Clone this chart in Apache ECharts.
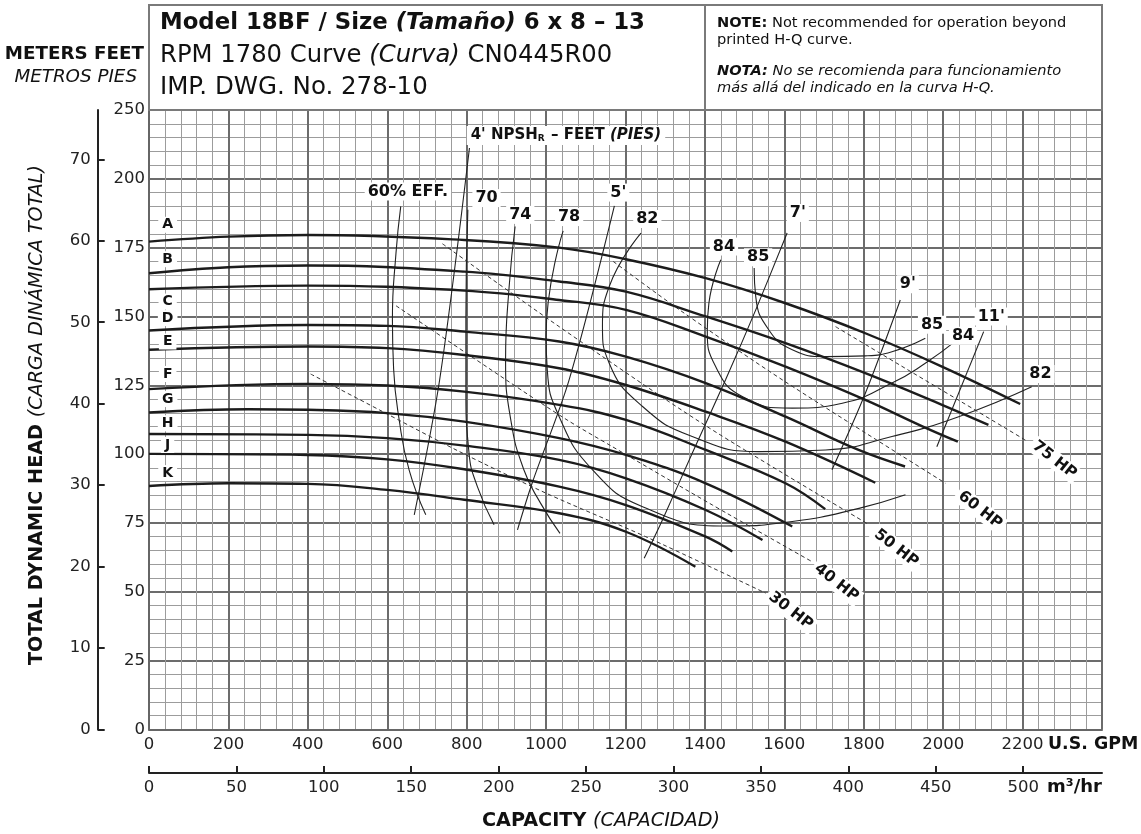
<!DOCTYPE html>
<html><head><meta charset="utf-8">
<script src="https://cdn.jsdelivr.net/npm/echarts@6/dist/echarts.min.js"></script>
<style>html,body{margin:0;padding:0;background:#fff}#c{width:1141px;height:834px}</style>
</head><body><div id="c"></div>
<script>
// ---------- axis ticks ----------
const gpmTicks = [0,200,400,600,800,1000,1200,1400,1600,1800,2000,2200];
const m3Ticks = [0,50,100,150,200,250,300,350,400,450,500];
const feetTicks = [0,25,50,75,100,125,150,175,200,225];
const feetTickLabels = ['0','25','50','75','100','125','150','175','200','250'];
const meterTicks = [0,10,20,30,40,50,60,70];

// ---------- head-capacity curves (GPM, feet) ----------
const curveNames = ['A','B','C','D','E','F','G','H','J','K'];
const curveA = [[0,177.2],[200,179.0],[400,179.6],[794,177.8],[1033,175],[1201,170.8],[1402,163.9],[1603,154.8],[1804,143.9],[1997,131.8],[2194,118.2]];
const curveB = [[0,165.7],[200,167.9],[400,168.5],[794,166.3],[1033,162.7],[1201,159],[1402,150],[1603,140.3],[1804,129.4],[1997,117.9],[2114,110.6]];
const curveC = [[0,159.9],[400,161.2],[794,159.4],[1033,156],[1201,152.4],[1402,142.7],[1603,131.8],[1804,119.7],[1949,110],[2037,104.5]];
const curveD = [[0,144.9],[400,146.9],[600,146.6],[794,144.5],[1033,140.9],[1201,135.4],[1402,125.8],[1603,113.6],[1787,101.5],[1904,95.5]];
const curveE = [[0,137.9],[400,139.1],[600,138.5],[794,136],[1033,131.2],[1201,125.1],[1402,115.4],[1603,104.5],[1829,89.6]];
const curveF = [[0,123.6],[400,125.5],[600,124.9],[794,122.7],[1033,117.9],[1201,112.4],[1402,101.5],[1603,89.4],[1703,80]];
const curveG = [[0,115.1],[250,116.3],[400,116.1],[600,114.9],[794,111.8],[1033,105.8],[1201,99.7],[1402,89.4],[1620,73.7]];
const curveH = [[0,107.3],[400,107],[600,105.8],[800,103],[1033,97.9],[1201,91.2],[1402,79.7],[1545,68.8]];
const curveJ = [[0,100.1],[400,99.7],[600,98.1],[794,94.5],[1033,88.2],[1201,81.5],[1402,70],[1469,64.6]];
const curveK = [[0,88.4],[200,89.4],[400,89.2],[600,87],[794,83.4],[1033,78.5],[1201,71.8],[1376,59.1]];
const headCurves = [curveA,curveB,curveC,curveD,curveE,curveF,curveG,curveH,curveJ,curveK];
const curveLabelPos = [[47,183.3],[47,170.8],[47,155.4],[47,149.4],[47,140.9],[47,129.1],[47,120],[47,111.2],[47,103.3],[47,93.1]];

// ---------- efficiency curves ----------
const eff60 = [[634,190],[622,173],[613,149],[616,131],[630,112.5],[655,94.3],[697,78]];
const eff70 = [[803,188.8],[798,148.8],[798,124.5],[806,100.3],[827,88.2],[869,74.3]];
const eff74 = [[922,182.7],[907,160.9],[898,134.2],[911,112.5],[944,94.3],[986,82.2],[1035,71.2]];
const eff78 = [[1043,181.1],[1000,142.7],[1003,130.6],[1033,113.6],[1117,94.3],[1243,80.9],[1453,73.9],[1620,75.5],[1788,80.3],[1905,85.2]];
const eff82 = [[1239,180.3],[1159,160.9],[1142,146.3],[1159,133],[1243,117.3],[1368,106.4],[1536,100.9],[1704,101.5],[1871,106.4],[2039,113.6],[2223,124.5]];
const eff84 = [[1440,170.6],[1410,154.8],[1406,145.1],[1427,131.8],[1494,120.9],[1620,116.7],[1746,118.5],[1871,125.8],[1955,133],[2035,141.5]];
const eff85 = [[1524,167.6],[1528,157.2],[1561,145.1],[1620,137.9],[1704,135.4],[1804,135.7],[1871,137.2],[1955,142.1]];
const effCurves = [eff60,eff70,eff74,eff78,eff82,eff84,eff85];

// ---------- NPSHr lines ----------
const npsh4 = [[807,211.2],[732,127],[668,77.9]];
const npsh5 = [[1172,190.2],[1058,127],[965,89.5],[928,72.5]];
const npsh7 = [[1607,180.3],[1528,152.4],[1452,127],[1368,100.3],[1293,76.1],[1247,62.2]];
const npsh9 = [[1892,156],[1804,122.1],[1720,94.3]];
const npsh11 = [[2102,144.5],[1984,102.7]];
const npshLines = [npsh4,npsh5,npsh7,npsh9,npsh11];

// ---------- horsepower lines ----------
const hp30 = [[407,129.1],[581,116],[782,100.9],[1000,85.8],[1251,70],[1553,49.5]];
const hp40 = [[622,153.9],[899,127],[1053,112.4],[1167,102.7],[1419,81.5],[1670,60.9]];
const hp50 = [[739,176.4],[1033,146.3],[1400,110.5],[1813,74.4]];
const hp60 = [[1169,170.0],[1340,152],[1600,126.5],[2006,89.4]];
const hp75 = [[1729,146.3],[2207,105.1]];
const hpLines = [hp30,hp40,hp50,hp60,hp75];
const hpLabels = [['30 HP',1616,43.1],['40 HP',1731,53.3],['50 HP',1882,65.8],['60 HP',2093,79.7],['75 HP',2280,97.9]];

// ---------- curve labels ----------
const effLabels = [['60% EFF.',652,195.4],['70',850,193.0],['74',935,186.9],['78',1058,186.1],["5'",1182,195.0],['82',1255,185.4],
  ['84',1448,175.4],['85',1534,171.5],["7'",1634,187.6],["9'",1911,161.7],['85',1972,147],['84',2050,143],["11'",2121,150],['82',2245,129.1]];
const npshTitlePos = [1050,215.7];

const FONT = 'DejaVu Sans';
const INK = '#111';
const chart = echarts.init(document.getElementById('c'), null, {renderer:'canvas'});

const series = [];
headCurves.forEach((d,i)=>series.push({name:curveNames[i],type:'line',data:d,smooth:0.4,symbol:'none',
  lineStyle:{color:'#1c1c1c',width:2.4},z:4,silent:true}));
effCurves.forEach(d=>series.push({type:'line',data:d,smooth:0.5,symbol:'none',lineStyle:{color:'#222',width:1.1},z:3,silent:true}));
npshLines.forEach(d=>series.push({type:'line',data:d,smooth:0.3,symbol:'none',lineStyle:{color:'#222',width:1.1},z:3,silent:true}));
hpLines.forEach(d=>series.push({type:'line',data:d,smooth:0.3,symbol:'none',lineStyle:{color:'#333',width:1,type:[4,3]},z:3,silent:true}));

const labelBase = {show:true,position:'inside',color:INK,opacity:1,textBorderWidth:0,fontFamily:FONT,fontWeight:'bold',backgroundColor:'#fff',padding:[1,3]};
const markerStyle = {color:'#fff',opacity:1};
series.push({type:'scatter',symbolSize:0.01,itemStyle:markerStyle,z:10,silent:true,
  data:curveLabelPos.map((p,i)=>({value:p,name:curveNames[i]})),
  label:Object.assign({},labelBase,{fontSize:14,formatter:p=>p.name,padding:[1,4]})});
series.push({type:'scatter',symbolSize:0.01,itemStyle:markerStyle,z:10,silent:true,
  data:effLabels.map(l=>({value:[l[1],l[2]],name:l[0]})),
  label:Object.assign({},labelBase,{fontSize:16,formatter:p=>p.name,padding:[1,3]})});
series.push({type:'scatter',symbolSize:0.01,itemStyle:markerStyle,z:10,silent:true,
  data:hpLabels.map(l=>({value:[l[1],l[2]],name:l[0]})),
  label:Object.assign({},labelBase,{fontSize:15.5,rotate:-38,formatter:p=>p.name,padding:[1,3]})});
series.push({type:'scatter',symbolSize:0.01,itemStyle:markerStyle,z:10,silent:true,
  data:[{value:npshTitlePos,name:'npsh'}],
  label:Object.assign({},labelBase,{padding:[2,4],formatter:"{b|4' NPSH}{s|R}{b| – FEET }{i|(PIES)}",
    rich:{b:{fontFamily:FONT,fontWeight:'bold',fontSize:15,color:INK},
          s:{fontFamily:FONT,fontWeight:'bold',fontSize:9,color:INK,verticalAlign:'bottom',padding:[6,1,0,0]},
          i:{fontFamily:FONT,fontWeight:'bold',fontStyle:'italic',fontSize:15,color:INK}}})});

const axisText = {fontFamily:FONT,fontSize:16.5,color:'#222'};
const option = {
  animation:false,
  backgroundColor:'#fff',
  grid:{left:149,right:39,top:110,bottom:104.6,containLabel:false},
  xAxis:[
    {type:'value',min:0,max:2400,interval:200,position:'bottom',
     axisLine:{show:true,onZero:false,lineStyle:{color:'#666',width:2}},
     axisTick:{show:false},
     axisLabel:Object.assign({customValues:gpmTicks,margin:7,formatter:v=>String(v)},axisText),
     splitLine:{show:true,lineStyle:{color:'#6c6c6c',width:2}},
     minorTick:{show:false,splitNumber:5},
     minorSplitLine:{show:true,lineStyle:{color:'#9c9c9c',width:1}}},
    {type:'value',min:0,max:2400/4.402868,position:'bottom',offset:43.5,
     axisLine:{show:true,onZero:false,lineStyle:{color:'#222',width:2}},
     axisTick:{show:true,inside:true,length:7,customValues:m3Ticks,lineStyle:{color:'#222',width:2}},
     axisLabel:Object.assign({customValues:m3Ticks,margin:6,formatter:v=>String(v)},axisText),
     splitLine:{show:false}}
  ],
  yAxis:[
    {type:'value',min:0,max:225,interval:25,position:'left',
     axisLine:{show:true,onZero:false,lineStyle:{color:'#666',width:2}},
     axisTick:{show:false},
     axisLabel:Object.assign({customValues:feetTicks,margin:4,
        formatter:v=>{const i=feetTicks.indexOf(v);return i>=0?feetTickLabels[i]:'';}},axisText),
     splitLine:{show:true,lineStyle:{color:'#6c6c6c',width:2}},
     minorTick:{show:false,splitNumber:5},
     minorSplitLine:{show:true,lineStyle:{color:'#9c9c9c',width:1}}},
    {type:'value',min:0,max:(729.4-110)/8.143,position:'left',offset:51.3,
     axisLine:{show:true,onZero:false,lineStyle:{color:'#222',width:2}},
     axisTick:{show:true,inside:true,length:7,customValues:meterTicks,lineStyle:{color:'#222',width:2}},
     axisLabel:Object.assign({customValues:meterTicks,margin:7,formatter:v=>String(v)},axisText),
     splitLine:{show:false}}
  ],
  series:series,
  graphic:[
    {type:'rect',shape:{x:149,y:5,width:953,height:105},style:{fill:'none',stroke:'#7a7a7a',lineWidth:2},z:20},
    {type:'line',shape:{x1:705,y1:5,x2:705,y2:110},style:{stroke:'#7a7a7a',lineWidth:2},z:20},
    {type:'text',x:160,y:23,z:21,style:{text:'{b|Model 18BF / Size }{bi|(Tamaño)}{b| 6 x 8 – 13}',verticalAlign:'middle',
      rich:{b:{fontFamily:FONT,fontWeight:'bold',fontSize:22.8,fill:INK},bi:{fontFamily:FONT,fontWeight:'bold',fontStyle:'italic',fontSize:22.8,fill:INK}}}},
    {type:'text',x:160,y:56,z:21,style:{text:'{r|RPM 1780 Curve }{i|(Curva)}{r| CN0445R00}',verticalAlign:'middle',
      rich:{r:{fontFamily:FONT,fontSize:24.3,fill:INK},i:{fontFamily:FONT,fontStyle:'italic',fontSize:24.3,fill:INK}}}},
    {type:'text',x:160,y:88,z:21,style:{text:'IMP. DWG. No. 278-10',verticalAlign:'middle',font:'24.5px '+FONT,fill:INK}},
    {type:'text',x:717,y:23,z:21,style:{text:'{b|NOTE:}{r| Not recommended for operation beyond}',verticalAlign:'middle',
      rich:{b:{fontFamily:FONT,fontWeight:'bold',fontSize:14.6,fill:INK},r:{fontFamily:FONT,fontSize:14.6,fill:INK}}}},
    {type:'text',x:717,y:40,z:21,style:{text:'printed H-Q curve.',verticalAlign:'middle',font:'14.6px '+FONT,fill:INK}},
    {type:'text',x:717,y:71,z:21,style:{text:'{b|NOTA:}{r| No se recomienda para funcionamiento}',verticalAlign:'middle',
      rich:{b:{fontFamily:FONT,fontWeight:'bold',fontStyle:'italic',fontSize:14.6,fill:INK},r:{fontFamily:FONT,fontStyle:'italic',fontSize:14.6,fill:INK}}}},
    {type:'text',x:717,y:88,z:21,style:{text:'más allá del indicado en la curva H-Q.',verticalAlign:'middle',font:'italic 14.6px '+FONT,fill:INK}},
    {type:'text',x:144,y:54,z:21,style:{text:'METERS FEET',align:'right',verticalAlign:'middle',font:'bold 18.3px '+FONT,fill:INK}},
    {type:'text',x:137,y:77,z:21,style:{text:'METROS PIES',align:'right',verticalAlign:'middle',font:'italic 18.3px '+FONT,fill:INK}},
    {type:'text',x:37,y:415,rotation:Math.PI/2,z:21,style:{text:'{b|TOTAL DYNAMIC HEAD }{i|(CARGA DINÁMICA TOTAL)}',align:'center',verticalAlign:'middle',
      rich:{b:{fontFamily:FONT,fontWeight:'bold',fontSize:19.2,fill:INK},i:{fontFamily:FONT,fontStyle:'italic',fontSize:19.2,fill:INK}}}},
    {type:'text',x:1048,y:744,z:21,style:{text:'U.S. GPM',verticalAlign:'middle',font:'bold 17.4px '+FONT,fill:INK}},
    {type:'text',x:1047,y:787,z:21,style:{text:'m³/hr',verticalAlign:'middle',font:'bold 18px '+FONT,fill:INK}},
    {type:'text',x:601,y:821,z:21,style:{text:'{b|CAPACITY }{i|(CAPACIDAD)}',align:'center',verticalAlign:'middle',
      rich:{b:{fontFamily:FONT,fontWeight:'bold',fontSize:19.2,fill:INK},i:{fontFamily:FONT,fontStyle:'italic',fontSize:19.2,fill:INK}}}}
  ]
};
chart.setOption(option);
</script></body></html>
